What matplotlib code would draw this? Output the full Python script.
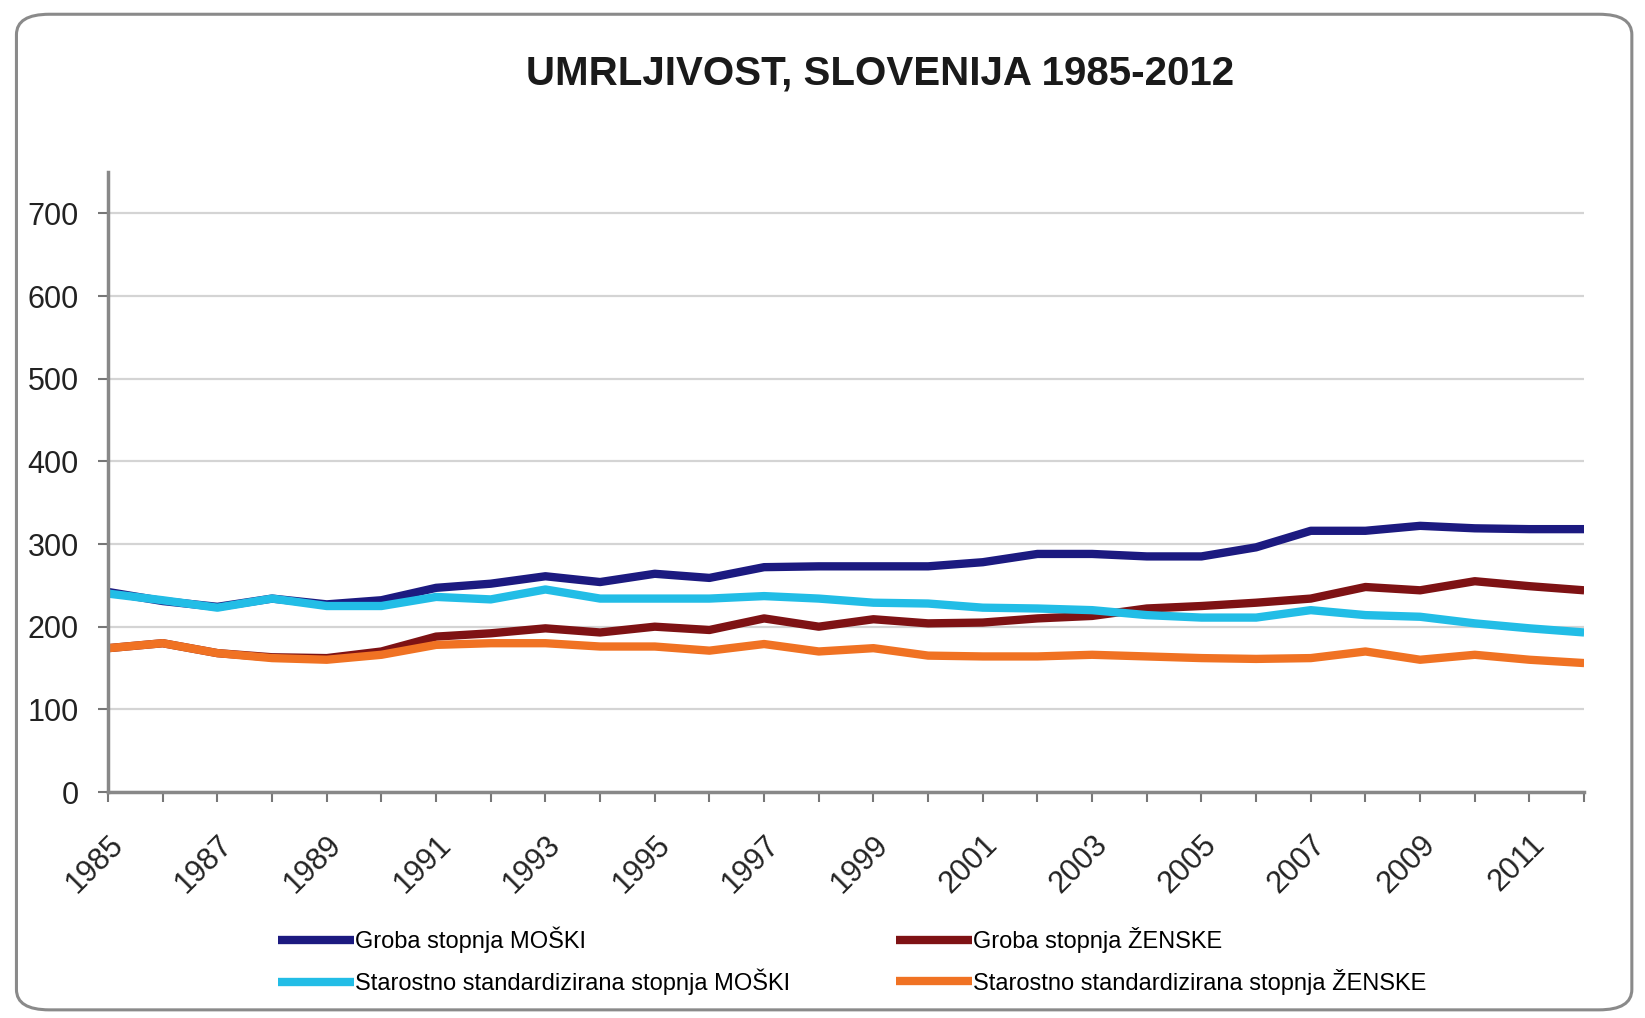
import matplotlib.pyplot as plt
from matplotlib.patches import FancyBboxPatch
import numpy as np

plt.rcParams['font.family'] = ['Liberation Sans', 'DejaVu Sans']

years = list(range(1985, 2013))

# Groba stopnja (crude rate), per 100 000
groba_m = [242, 231, 224, 234, 227, 232, 247, 252, 261, 254, 264, 259, 272, 273,
           273, 273, 278, 288, 288, 285, 285, 296, 316, 316, 322, 319, 318, 318]
groba_z = [174, 180, 168, 163, 162, 170, 188, 192, 198, 193, 200, 196, 210, 200,
           209, 204, 205, 210, 213, 222, 225, 229, 234, 248, 244, 255, 249, 244]
# Starostno standardizirana stopnja (age-standardised rate)
star_m = [240, 232, 223, 234, 225, 225, 236, 233, 245, 234, 234, 234, 237, 234,
          229, 228, 223, 222, 220, 214, 211, 211, 220, 214, 212, 204, 198, 193]
star_z = [174, 180, 168, 162, 160, 166, 178, 180, 180, 176, 176, 171, 179, 170,
          174, 165, 164, 164, 166, 164, 162, 161, 162, 170, 160, 166, 160, 156]

labels = ['Groba stopnja MOŠKI', 'Groba stopnja ŽENSKE',
          'Starostno standardizirana stopnja MOŠKI',
          'Starostno standardizirana stopnja ŽENSKE']
colors = ['#1c1a80', '#7e1214', '#22bde6', '#f07223']

fig = plt.figure(figsize=(16.45, 10.18), dpi=100)
ax = fig.add_axes([0.0657, 0.222, 0.8973, 0.609])

series = [groba_m, groba_z, star_m, star_z]
lines = []
for s, c, lab in zip(series, colors, labels):
    ln, = ax.plot(years, s, color=c, lw=6, label=lab, solid_capstyle='butt')
    lines.append(ln)

ax.set_xlim(1985, 2012)
ax.set_ylim(0, 750)
ax.set_yticks(np.arange(0, 701, 100))
ax.set_xticks(years, minor=True)
ax.set_xticks(years[::2])
ax.set_xticklabels([str(y) for y in years[::2]], rotation=45, ha='right',
                   rotation_mode='anchor')
ax.tick_params(axis='x', which='both', length=7, width=1.5, color='#777777')
ax.tick_params(axis='x', labelsize=22, pad=20, labelcolor='#222222')
ax.tick_params(axis='y', length=7, width=1.5, color='#777777',
               labelsize=22, pad=14, labelcolor='#222222')

ax.grid(axis='y', color='#d4d4d4', lw=1.6)
ax.set_axisbelow(True)
for side in ['top', 'right']:
    ax.spines[side].set_visible(False)
for side in ['left', 'bottom']:
    ax.spines[side].set_color('#888888')
    ax.spines[side].set_linewidth(2.5)

fig.text(0.535, 0.928, 'UMRLJIVOST, SLOVENIJA 1985-2012', ha='center',
         va='center', fontsize=29, fontweight='bold', color='#1a1a1a')

# row-wise order: groba M | groba Z, then starostno M | starostno Z
order = [0, 2, 1, 3]
fig.legend(handles=[lines[i] for i in order], labels=[labels[i] for i in order],
           ncol=2, loc='center left', bbox_to_anchor=(0.162, 0.056),
           frameon=False, fontsize=17, borderpad=0, handlelength=3.2,
           handletextpad=0.05, columnspacing=4.5, labelspacing=0.65)

border = FancyBboxPatch((0.010, 0.008), 0.982, 0.978,
                        boxstyle='round,pad=0,rounding_size=0.02',
                        transform=fig.transFigure, fill=False,
                        edgecolor='#8a8a8a', lw=2.2)
fig.add_artist(border)

fig.savefig('out.png', dpi=100)
